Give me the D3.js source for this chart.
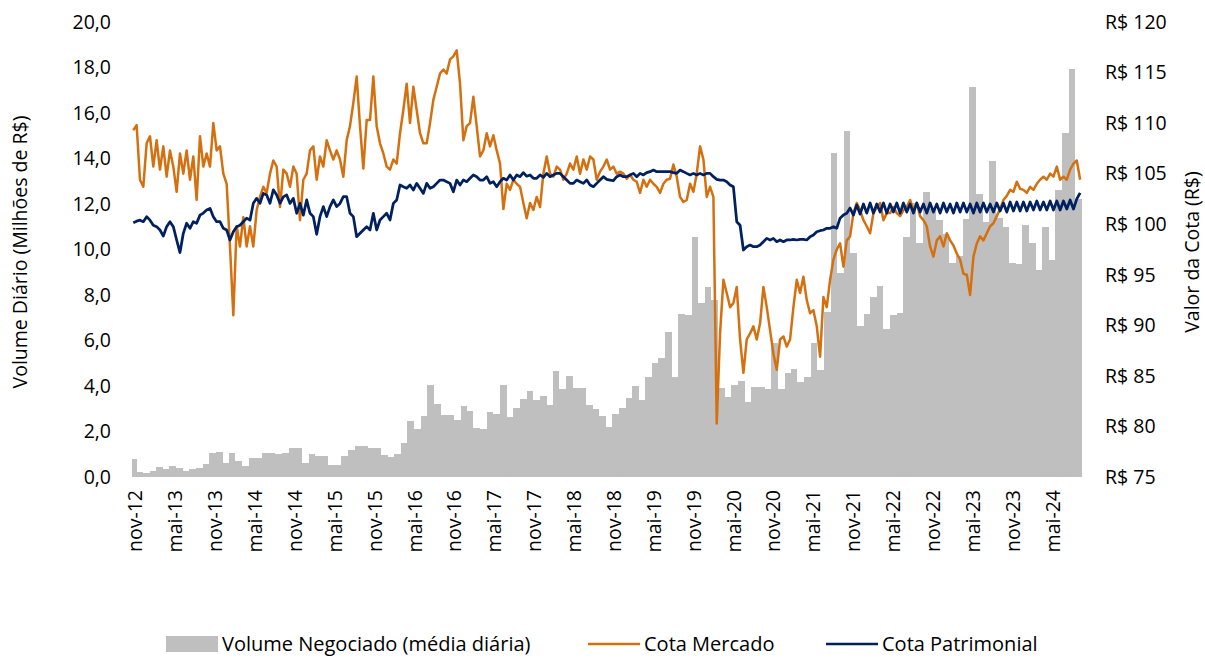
<!DOCTYPE html>
<html>
<head>
<meta charset="utf-8">
<script src="https://cdn.jsdelivr.net/npm/d3@7"></script>
<style>
  body { margin: 0; background: #fff; }
  svg text { font-family: "Open Sans", "Noto Sans", sans-serif; fill: #000; }
</style>
</head>
<body>
<svg id="chart" width="1205" height="658"></svg>
<script>
// ---- data ----
const seriesStart = new Date(2012, 10, 10);
const seriesEnd = new Date(2024, 10, 1);
const volumeFirstMonth = new Date(2012, 10, 1);

// monthly average daily volume, R$ millions, nov-12 .. out-24
const volume = [
  0.78, 0.22, 0.19, 0.26, 0.42, 0.34, 0.5, 0.38, 0.28, 0.34, 0.41, 0.57,
  1.07, 1.08, 0.6, 1.04, 0.72, 0.47, 0.85, 0.82, 1.04, 1.07, 1.01, 1.04,
  1.27, 1.27, 0.63, 1.0, 0.91, 0.91, 0.51, 0.51, 0.94, 1.19, 1.38, 1.38,
  1.29, 1.29, 0.97, 0.89, 1.03, 1.48, 2.46, 2.1, 2.68, 4.06, 3.19, 2.73,
  2.73, 2.5, 3.14, 2.92, 2.14, 2.1, 2.87, 2.77, 4.03, 2.65, 3.02, 3.43,
  3.79, 3.38, 3.56, 3.16, 4.64, 3.88, 4.44, 3.93, 3.93, 3.16, 3.0, 2.68,
  2.21, 2.77, 3.02, 3.46, 4.01, 3.38, 4.38, 5.0, 5.22, 6.37, 4.38, 7.16,
  7.11, 10.56, 7.63, 8.34, 7.78, 3.9, 3.53, 4.04, 4.22, 3.28, 3.94, 3.97,
  3.87, 5.88, 3.87, 4.56, 4.75, 4.16, 4.41, 5.88, 4.7, 7.27, 14.23, 8.95,
  15.22, 9.83, 6.64, 7.16, 7.9, 8.41, 6.49, 7.1, 7.22, 10.53, 12.03, 10.3,
  12.54, 11.8, 11.3, 10.7, 9.4, 9.7, 11.34, 17.16, 12.45, 11.2, 13.9, 11.4,
  11.0, 9.42, 9.36, 11.08, 10.3, 9.1, 11.0, 9.54, 12.6, 15.13, 17.93, 12.2
];

// quote readings, one every half month starting 16/11/2012
const lineStart = new Date(2012, 10, 16);
const lineStepDays = 15.35;

const cotaMercado = [
  109.3, 109.8, 104.4,
  103.7, 108.0, 108.7, 105.7, 108.3, 105.4, 107.7, 104.7, 107.3, 105.7, 103.2, 107.0, 105.0, 107.3, 104.4, 106.7, 102.4, 108.7, 105.7, 107.0, 105.7, 110.0, 107.3, 107.7,
  105.0, 104.0, 97.8, 91.0, 99.8, 97.8, 100.7, 97.8, 99.8, 97.8, 101.4, 102.7, 103.7, 103.1, 105.0, 106.3, 105.7, 101.7, 105.4, 105.0, 103.7, 105.7, 105.0, 100.4,
  104.4, 105.0, 107.3, 107.7, 104.4, 106.7, 105.7, 108.3, 107.3, 106.4, 107.3, 106.4, 104.7, 108.3, 109.7, 112.0, 114.6, 109.7, 105.5, 110.3, 110.3, 114.6, 109.7, 108.0,
  107.0, 105.7, 105.4, 106.4, 106.0, 109.0, 111.3, 113.9, 110.0, 113.6, 111.3, 109.0, 108.0, 108.0, 110.0, 112.3, 113.6, 114.9, 115.3, 114.9, 116.3, 116.6, 117.2, 113.9,
  108.3, 109.7, 110.0, 112.6, 109.7, 106.7, 107.3, 109.0, 107.7, 108.8, 107.3, 106.0, 101.5, 104.0, 103.4, 104.4, 104.0, 103.7, 102.1, 100.6, 102.1, 101.4, 102.7, 101.7,
  105.0, 106.7, 105.0, 104.7, 105.7, 105.4, 104.4, 105.0, 106.0, 105.4, 106.7, 105.0, 106.4, 105.4, 106.7, 106.4, 104.4, 105.2, 105.7, 106.4, 105.4, 105.7, 105.0, 105.2,
  105.0, 104.5, 104.9, 104.4, 104.2, 103.1, 104.4, 103.7, 104.4, 104.0, 103.7, 103.1, 104.0, 104.4, 104.5, 105.9, 104.7, 102.7, 102.2, 102.4, 104.0, 103.2, 105.0, 107.7,
  106.4, 102.7, 103.7, 102.7, 80.3, 89.2, 94.5, 93.2, 91.8, 92.2, 93.8, 88.6, 85.3, 88.6, 89.2, 89.9, 88.6, 90.2, 93.8, 91.8, 89.5, 87.2, 85.6, 88.6,
  88.9, 87.9, 88.6, 91.8, 94.5, 93.2, 94.8, 92.5, 91.2, 91.5, 89.9, 86.9, 92.8, 91.8, 94.5, 96.5, 97.5, 98.1, 95.8, 98.4, 98.8, 101.1, 102.1, 101.4,
  100.4, 99.8, 99.1, 101.1, 101.7, 102.1, 100.4, 101.1, 101.1, 101.7, 101.1, 100.8, 101.4, 101.7, 102.4, 101.4, 102.1, 100.8, 100.4, 99.8, 97.8, 96.8, 98.4, 98.8,
  97.8, 99.1, 98.4, 97.9, 97.1, 96.5, 95.1, 95.0, 93.0, 96.8, 98.1, 98.8, 98.4, 99.1, 99.8, 100.1, 100.8, 101.5, 102.4, 102.8, 103.4, 103.2, 104.2, 103.5,
  103.4, 103.1, 103.7, 103.4, 104.0, 104.4, 104.7, 104.4, 105.0, 104.7, 105.7, 104.4, 104.7, 104.4, 105.4, 106.0, 106.3, 104.4
];

const cotaPatrimonial = [
  100.15, 100.3, 100.4,
  100.25, 100.75, 100.4, 99.9, 99.76, 99.43, 98.83, 99.76, 100.25, 99.76, 98.44, 97.2, 99.1, 100.1, 99.6, 100.25, 100.1, 100.9, 101.1, 101.4, 101.57, 100.75, 100.25, 100.25,
  99.6, 99.43, 98.44, 99.25, 99.76, 99.9, 100.25, 100.6, 100.4, 102.07, 102.56, 102.07, 103.05, 102.9, 102.07, 103.4, 102.9, 102.07, 102.7, 102.9, 102.06, 102.56, 101.08, 102.06,
  100.9, 102.4, 101.08, 100.75, 99.0, 100.75, 101.74, 100.75, 101.74, 102.4, 101.74, 102.06, 102.72, 102.72, 101.08, 100.75, 98.77, 99.1, 99.43, 99.76, 99.43, 101.08, 99.43, 100.42,
  100.75, 101.08, 100.42, 102.06, 102.4, 103.88, 103.71, 103.55, 103.88, 103.38, 104.04, 103.55, 103.05, 104.04, 103.55, 103.71, 104.04, 104.37, 104.37, 104.2, 104.04, 103.2, 104.37, 103.88,
  104.37, 104.21, 104.54, 104.87, 104.7, 104.37, 104.37, 104.7, 104.04, 104.21, 103.71, 104.21, 104.54, 104.37, 104.87, 104.37, 104.87, 104.7, 105.1, 104.75, 104.87, 104.54, 104.54, 104.87,
  104.64, 105.03, 104.7, 104.87, 105.03, 105.03, 104.7, 104.37, 104.04, 104.04, 104.37, 104.21, 104.04, 104.37, 103.88, 103.71, 104.04, 104.37, 104.7, 104.44, 104.37, 104.3, 104.7, 104.87,
  104.7, 104.7, 104.87, 105.03, 104.7, 105.03, 104.87, 105.1, 105.2, 105.36, 105.2, 105.2, 105.2, 105.2, 105.2, 105.1, 105.03, 105.36, 105.2, 105.03, 104.87, 105.03, 104.87, 105.03,
  104.87, 105.03, 105.03, 104.7, 104.44, 104.37, 104.37, 104.21, 103.88, 103.7, 100.25, 99.9, 97.45, 97.78, 97.94, 97.78, 97.78, 97.94, 98.27, 98.6, 98.44, 98.6, 98.27, 98.44,
  98.27, 98.44, 98.44, 98.5, 98.44, 98.5, 98.5, 98.44, 98.77, 98.93, 99.26, 99.36, 99.43, 99.6, 99.6, 99.76, 99.6, 100.6, 100.91, 101.08, 101.6, 100.9, 101.9, 101.0,
  102.0, 101.1, 102.1, 101.1, 102.0, 101.2, 102.1, 101.1, 102.0, 101.2, 102.1, 101.1, 102.1, 101.2, 102.0, 101.1, 102.1, 101.2, 102.0, 101.1, 102.1, 101.2, 102.0, 101.1,
  102.1, 101.2, 102.0, 101.1, 102.1, 101.2, 102.1, 101.2, 102.0, 101.1, 102.1, 101.2, 102.1, 101.2, 102.0, 101.2, 102.1, 101.3, 102.1, 101.2, 102.2, 101.3, 102.2, 101.3,
  102.2, 101.3, 102.2, 101.4, 102.3, 101.4, 102.2, 101.4, 102.3, 101.4, 102.3, 101.4, 102.3, 101.5, 102.4, 101.5, 102.5, 103.1
];

const tickLabels = [
  'nov-12', 'mai-13', 'nov-13', 'mai-14', 'nov-14', 'mai-15', 'nov-15', 'mai-16',
  'nov-16', 'mai-17', 'nov-17', 'mai-18', 'nov-18', 'mai-19', 'nov-19', 'mai-20',
  'nov-20', 'mai-21', 'nov-21', 'mai-22', 'nov-22', 'mai-23', 'nov-23', 'mai-24'
];
// the source axis labels every ~126 trading days, close to this day step
const firstTick = new Date(2012, 10, 24);
const tickStepDays = 183.6;

const volumeTicks = d3.range(0, 20.001, 2);
const cotaTicks = d3.range(75, 120.001, 5);

const legendItems = [
  { label: 'Volume Negociado (média diária)', type: 'bar', color: '#bfbfbf' },
  { label: 'Cota Mercado', type: 'line', color: '#d4700f' },
  { label: 'Cota Patrimonial', type: 'line', color: '#002060' },
];

// ---- layout ----
const plot = { left: 132, right: 1082, top: 22, bottom: 477 };
const dayMs = 864e5;

const svg = d3.select('#chart');

const x = d3.scaleTime().domain([seriesStart, seriesEnd]).range([plot.left, plot.right]);
const yVol = d3.scaleLinear().domain([0, 20]).range([plot.bottom, plot.top]);
const yCota = d3.scaleLinear().domain([75, 120]).range([plot.bottom, plot.top]);

// bars: one per calendar month
const bars = volume.map((v, i) => {
  const m0 = d3.timeMonth.offset(volumeFirstMonth, i);
  const m1 = d3.timeMonth.offset(volumeFirstMonth, i + 1);
  return { start: m0 < seriesStart ? seriesStart : m0, end: m1 > seriesEnd ? seriesEnd : m1, value: v };
});

svg.append('g')
  .attr('shape-rendering', 'crispEdges')
  .selectAll('rect')
  .data(bars)
  .join('rect')
  .attr('x', (d) => x(d.start))
  .attr('width', (d) => x(d.end) - x(d.start))
  .attr('y', (d) => yVol(d.value))
  .attr('height', (d) => yVol(0) - yVol(d.value))
  .attr('fill', '#bfbfbf');

const toPoints = (values) =>
  values.map((v, i) => ({ date: new Date(lineStart.getTime() + i * lineStepDays * dayMs), value: v }));

const line = d3.line()
  .x((d) => x(d.date))
  .y((d) => yCota(d.value));

svg.append('path')
  .datum(toPoints(cotaMercado))
  .attr('d', line)
  .attr('fill', 'none')
  .attr('stroke', '#d4700f')
  .attr('stroke-width', 2.5)
  .attr('stroke-linejoin', 'round');

svg.append('path')
  .datum(toPoints(cotaPatrimonial))
  .attr('d', line)
  .attr('fill', 'none')
  .attr('stroke', '#002060')
  .attr('stroke-width', 2.75)
  .attr('stroke-linejoin', 'round');

// ---- axes ----
const fmtVol = (d) => d3.format('.1f')(d).replace('.', ',');

const leftAxis = svg.append('g')
  .attr('transform', `translate(${plot.left},0)`)
  .call(d3.axisLeft(yVol).tickValues(volumeTicks).tickFormat(fmtVol).tickSize(0).tickPadding(21));

const rightAxis = svg.append('g')
  .attr('transform', `translate(${plot.right},0)`)
  .call(d3.axisRight(yCota).tickValues(cotaTicks).tickFormat((d) => `R$ ${d}`).tickSize(0).tickPadding(23));

const tickDates = tickLabels.map((_, i) => new Date(firstTick.getTime() + i * tickStepDays * dayMs));

const bottomAxis = svg.append('g')
  .attr('transform', `translate(0,${plot.bottom})`)
  .call(d3.axisBottom(x).tickValues(tickDates).tickFormat((d, i) => tickLabels[i]).tickSize(0));

bottomAxis.selectAll('text')
  .attr('transform', 'rotate(-90)')
  .attr('text-anchor', 'end')
  .attr('x', -13)
  .attr('y', 0)
  .attr('dy', '0.35em');

[leftAxis, rightAxis, bottomAxis].forEach((g) => {
  g.select('.domain').remove();
  g.selectAll('text').attr('font-size', 19.5).attr('font-family', null).attr('fill', '#000');
});

svg.append('text')
  .attr('transform', 'translate(20,252) rotate(-90)')
  .attr('text-anchor', 'middle')
  .attr('dy', '0.35em')
  .attr('font-size', 19.5)
  .text('Volume Diário (Milhões de R$)');

svg.append('text')
  .attr('transform', 'translate(1192,252) rotate(-90)')
  .attr('text-anchor', 'middle')
  .attr('dy', '0.35em')
  .attr('font-size', 19.5)
  .text('Valor da Cota (R$)');

// ---- legend ----
const legendX = [166, 588, 826];
const legend = svg.append('g').attr('transform', 'translate(0,644)');

legendItems.forEach((item, i) => {
  const g = legend.append('g').attr('transform', `translate(${legendX[i]},0)`);
  if (item.type === 'bar') {
    g.append('rect').attr('x', 0).attr('y', -8).attr('width', 52).attr('height', 16).attr('fill', item.color);
  } else {
    g.append('line').attr('x1', 0).attr('x2', 52).attr('y1', 0).attr('y2', 0)
      .attr('stroke', item.color).attr('stroke-width', 2.5);
  }
  g.append('text')
    .attr('x', 56)
    .attr('dy', '0.35em')
    .attr('font-size', 20)
    .text(item.label);
});
</script>
</body>
</html>
